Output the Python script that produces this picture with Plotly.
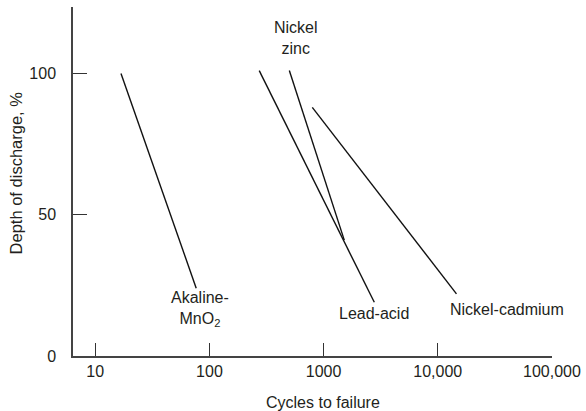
import plotly.graph_objects as go

# Cycle-life lines: (cycles, depth of discharge %) at each end
alkaline_cycles = [16.8, 76.6]
alkaline_dod = [100, 24]
lead_acid_cycles = [273, 2780]
lead_acid_dod = [101, 19]
nickel_zinc_cycles = [501, 1517]
nickel_zinc_dod = [101, 41]
nickel_cadmium_cycles = [796, 14580]
nickel_cadmium_dod = [88, 22]

x_tick_vals = [10, 100, 1000, 10000, 100000]
x_tick_text = ["10", "100", "1000", "10,000", "100,000"]
y_tick_vals = [0, 50, 100]

INK = "#231f20"
FONT = "Liberation Sans, Arial, sans-serif"

fig = go.Figure()
for xs, ys in [
    (alkaline_cycles, alkaline_dod),
    (lead_acid_cycles, lead_acid_dod),
    (nickel_zinc_cycles, nickel_zinc_dod),
    (nickel_cadmium_cycles, nickel_cadmium_dod),
]:
    fig.add_trace(go.Scatter(x=xs, y=ys, mode="lines",
                             line=dict(color="#111111", width=1.4),
                             showlegend=False, hoverinfo="skip"))

labels = [
    ("Nickel<br>zinc", 2.759, 112.5),
    ("Akaline-<br>MnO<sub>2</sub>", 1.919, 16.8),
    ("Lead-acid", 3.441, 15.0),
    ("Nickel-cadmium", 4.602, 16.4),
]
for text, lx, ly in labels:
    fig.add_annotation(x=lx, y=ly, text=text, showarrow=False,
                       font=dict(family=FONT, size=16, color=INK),
                       xanchor="center", yanchor="middle")

# Axis titles
fig.add_annotation(text="Cycles to failure", xref="paper", yref="paper",
                   x=0.521, y=-0.132, showarrow=False,
                   xanchor="center", yanchor="middle",
                   font=dict(family=FONT, size=16, color=INK))
fig.add_annotation(text="Depth of discharge, %", xref="paper", yref="paper",
                   x=-0.119, y=0.526, showarrow=False, textangle=-90,
                   xanchor="center", yanchor="middle",
                   font=dict(family=FONT, size=16.5, color=INK))

fig.update_layout(
    width=586, height=411,
    margin=dict(l=73, r=34, t=7, b=55),
    plot_bgcolor="white", paper_bgcolor="white",
    font=dict(family=FONT, size=16, color=INK),
    xaxis=dict(
        type="log", range=[0.805, 5.0005],
        tickvals=x_tick_vals, ticktext=x_tick_text,
        ticks="inside", ticklen=13, tickwidth=1.3, tickcolor="#333",
        showline=True, linecolor="#444", linewidth=1.5,
        showgrid=False, zeroline=False, automargin=False,
        ticklabelstandoff=0,
    ),
    yaxis=dict(
        range=[0, 123.5],
        tickvals=y_tick_vals,
        ticks="inside", ticklen=14, tickwidth=1.3, tickcolor="#333",
        showline=True, linecolor="#444", linewidth=1.5,
        showgrid=False, zeroline=False, automargin=False,
        ticklabelstandoff=12,
    ),
)

fig.write_html("out.html")
